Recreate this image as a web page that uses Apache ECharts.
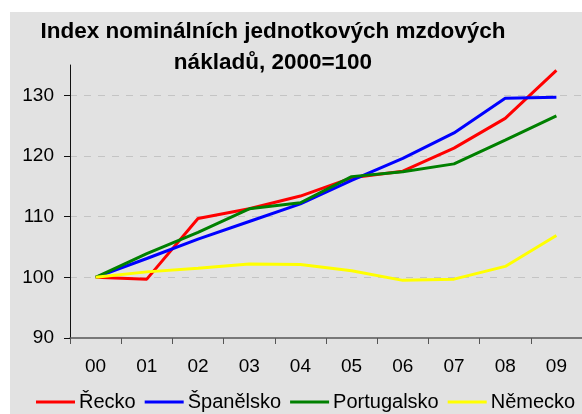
<!DOCTYPE html>
<html>
<head>
<meta charset="utf-8">
<script src="https://cdn.jsdelivr.net/npm/echarts@6/dist/echarts.min.js"></script>
<style>
  html, body { margin: 0; padding: 0; background: #fff; }
  #chart { width: 582px; height: 414px; }
</style>
</head>
<body>
<div id="chart"></div>
<script>
// roky 2000-2009
const years = ['00', '01', '02', '03', '04', '05', '06', '07', '08', '09']
const recko = [100, 99.7, 109.7, 111.3, 113.4, 116.4, 117.5, 121.3, 126.2, 134.1]
const spanelsko = [100, 103.1, 106.3, 109.2, 112.1, 116.0, 119.6, 123.8, 129.5, 129.7]
const portugalsko = [100, 103.9, 107.4, 111.3, 112.3, 116.6, 117.4, 118.7, 122.6, 126.6]
const nemecko = [100, 100.9, 101.5, 102.2, 102.1, 101.1, 99.5, 99.7, 101.8, 106.9]

const font = '"Liberation Sans", Arial, sans-serif'

function line(name, data, color) {
  return {
    name: name,
    type: 'line',
    data: data,
    symbol: 'none',
    smooth: false,
    lineStyle: { color: color, width: 3 },
    itemStyle: { color: color }
  }
}

const chart = echarts.init(document.getElementById('chart'))
chart.setOption({
  backgroundColor: '#fff',
  animation: false,
  graphic: [{
    type: 'rect',
    z: -10,
    shape: { x: 10, y: 12, width: 580, height: 410 },
    style: { fill: '#e2e2e2' }
  }],
  title: {
    text: 'Index nominálních jednotkových mzdových\nnákladů, 2000=100',
    left: 268,
    top: 11,
    textAlign: 'center',
    textStyle: {
      fontFamily: font,
      fontSize: 22.5,
      fontWeight: 'bold',
      color: '#000',
      lineHeight: 31
    }
  },
  legend: {
    left: 31,
    top: 387,
    icon: 'rect',
    itemWidth: 39,
    itemHeight: 3,
    itemGap: 9,
    textStyle: { fontFamily: font, fontSize: 20, color: '#000', padding: [0, 0, 0, -1] },
    data: ['Řecko', 'Španělsko', 'Portugalsko', 'Německo']
  },
  grid: { left: 70, top: 65, width: 514, height: 273 },
  xAxis: {
    type: 'category',
    data: years,
    boundaryGap: true,
    axisLine: { lineStyle: { color: '#555', width: 1.5 } },
    axisTick: { show: true, length: 6, lineStyle: { color: '#555' } },
    axisLabel: { fontFamily: font, fontSize: 19, color: '#000', margin: 19 }
  },
  yAxis: {
    type: 'value',
    min: 90,
    max: 135,
    interval: 10,
    axisLine: { show: true, lineStyle: { color: '#111', width: 1 } },
    axisTick: { show: true, length: 6, lineStyle: { color: '#111' } },
    axisLabel: { fontFamily: font, fontSize: 19, color: '#000', margin: 16, showMaxLabel: false },
    splitLine: {
      show: true,
      showMinLine: false,
      showMaxLine: false,
      lineStyle: { color: '#c4c4c4', type: [7, 7], width: 1 }
    }
  },
  series: [
    line('Řecko', recko, '#ff0000'),
    line('Španělsko', spanelsko, '#0000ff'),
    line('Portugalsko', portugalsko, '#008000'),
    line('Německo', nemecko, '#ffff00')
  ]
})
</script>
</body>
</html>
